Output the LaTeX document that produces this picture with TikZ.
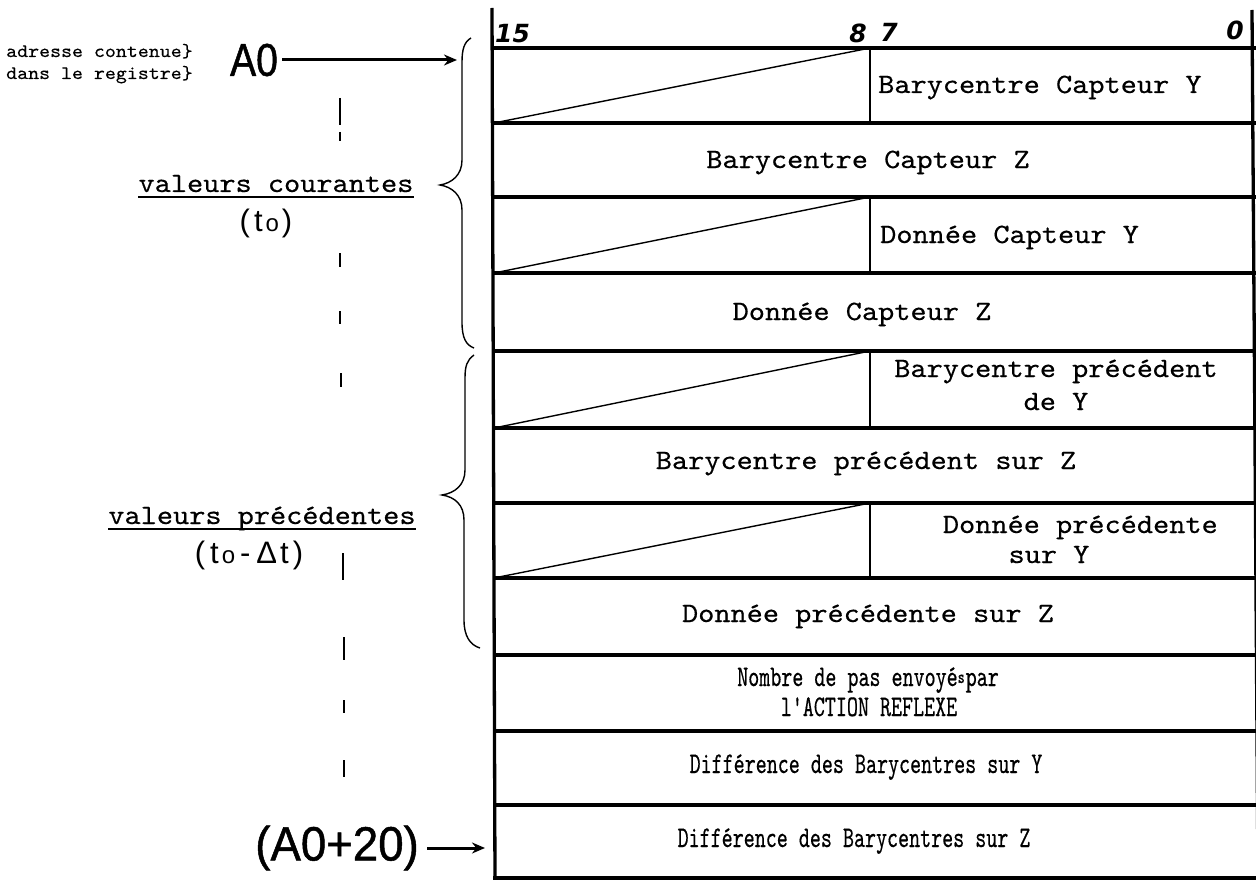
\documentclass[tikz,border=0pt]{standalone}
\usepackage{fontspec}
\usetikzlibrary{arrows.meta}
\newfontfamily\tabfont[FakeStretch=1.1,FakeBold=0.4]{lmmono10-regular.otf}
\newfontfamily\narrowfont[FakeStretch=0.7,FakeBold=0.4]{lmmono10-regular.otf}
\newfontfamily\leftfont[FakeStretch=1.1,FakeBold=0.3]{lmmono10-regular.otf}
\newfontfamily\handfont[FakeStretch=0.85,FakeBold=1]{Liberation Sans}
\newfontfamily\handfontb[FakeStretch=0.95,FakeBold=1]{Liberation Sans}
\newfontfamily\thinfont{Liberation Sans}
\newfontfamily\numfont{DejaVu Sans}
\tikzset{
  thickline/.style={line width=3.3pt},
  thinline/.style={line width=1.4pt},
  bracestyle/.style={line width=1.4pt},
  dashline/.style={line width=1.6pt},
  arrowline/.style={line width=3pt,-{Stealth[length=13pt,width=11pt]}},
  celltext/.style={font=\tabfont\fontsize{28}{30}\selectfont,inner sep=0pt},
  narrowtext/.style={font=\narrowfont\fontsize{30}{30}\selectfont,inner sep=0pt},
  lefttext/.style={font=\leftfont\fontsize{19}{20}\selectfont,inner sep=0pt},
  handtext/.style={font=\handfont\fontsize{46}{46}\selectfont,inner sep=0pt},
  handtextb/.style={font=\handfontb\fontsize{48}{48}\selectfont,inner sep=0pt},
  thintext/.style={font=\thinfont\fontsize{31}{31}\selectfont,inner sep=0pt},
  numtext/.style={font=\numfont\bfseries\itshape\fontsize{25}{25}\selectfont,inner sep=0pt},
}
\begin{document}
\begin{tikzpicture}[x=1pt,y=-1pt]
\useasboundingbox (0,0) rectangle (1256,880);
\fill[white] (0,0) rectangle (1256,880);

% table frame
\draw[thickline] (492,8) -- (495,882);
\draw[thickline] (1252,10) -- (1258,882);
\foreach \y in {48,123,197,273,351,428,503,578,655,731,805,878}
  \draw[thickline] (493,\y) -- (1256,\y);
% split rows with diagonal
\foreach \t/\b in {48/123,197/273,351/428,503/578}{
  \draw[thinline] (870,\t) -- (870,\b);
  \draw[thinline] (494,\b) -- (870,\t);
}

% bit numbers
\node[numtext,anchor=west] (n15) at (495,34) {15};
\node[numtext] (n8) at (858,33) {8};
\node[numtext] (n7) at (889,32) {7};
\node[numtext] (n0) at (1235,30) {0};

% cell texts
\node[celltext,anchor=base west] (r0) at (878,93) {Barycentre Capteur Y};
\node[celltext,anchor=base] (r1) at (868,168) {Barycentre Capteur Z};
\node[celltext,anchor=base west] (r2) at (880,243) {Donnée Capteur Y};
\node[celltext,anchor=base] (r3) at (862,320) {Donnée Capteur Z};
\node[celltext,anchor=base] (r4a) at (1056,377) {Barycentre précédent};
\node[celltext,anchor=base] (r4b) at (1056,410) {de Y};
\node[celltext,anchor=base] (r5) at (866,469) {Barycentre précédent sur Z};
\node[celltext,anchor=base east] (r6a) at (1218,533) {Donnée précédente};
\node[celltext,anchor=base] (r6b) at (1049,563) {sur Y};
\node[celltext,anchor=base] (r7) at (868,622) {Donnée précédente sur Z};
\node[narrowtext,anchor=base] (r8a) at (868,686) {Nombre de pas envoyé\raisebox{3pt}{\fontsize{19}{19}\selectfont s}\kern1pt par};
\node[narrowtext,anchor=base] (r8b) at (869,716) {l'ACTION REFLEXE};
\node[narrowtext,anchor=base] (r9) at (866,773) {Différence des Barycentres sur Y};
\node[narrowtext,anchor=base] (r10) at (854,847) {Différence des Barycentres sur Z};

% left annotations
\node[lefttext,anchor=base west] (adr1) at (6,57) {adresse contenue\}};
\node[lefttext,anchor=base west] (adr2) at (6,79) {dans le registre\}};
\node[handtext] (a0) at (254,60) {A0};
\coordinate (a0tip) at (457,60);
\draw[arrowline,shorten <=4pt] (a0) -- (a0tip);

\node[handtextb,anchor=east] (a20) at (419,848) {(A0+20)};
\coordinate (a20tip) at (485,848);
\draw[arrowline,shorten <=8pt] (a20) -- (a20tip);

\node[celltext,anchor=base] (vc) at (276,192) {valeurs courantes};
\draw[thinline] ([yshift=-5pt]vc.base west) -- ([yshift=-5pt]vc.base east);
\node[thintext] (t0) at (266,223) {(\kern4pt t\kern3pt{\fontsize{24}{24}\selectfont o}\kern3pt)};

\node[celltext,anchor=base] (vp) at (262,524) {valeurs précédentes};
\draw[thinline] ([yshift=-5pt]vp.base west) -- ([yshift=-5pt]vp.base east);
\node[thintext] (t1) at (249,555) {(\kern5pt t\kern3pt{\fontsize{24}{24}\selectfont o}\kern5pt-\kern6ptΔ\kern3pt t\kern4pt)};

% braces
\draw[bracestyle] (471,38) .. controls (464,42) and (462,50) .. (462,62) -- (462,160)
  .. controls (462,175) and (452,183) .. (440,185)
  .. controls (452,187) and (462,195) .. (462,210) -- (462,322)
  .. controls (462,338) and (466,345) .. (474,348);
\draw[bracestyle] (474,355) .. controls (467,360) and (465,366) .. (465,378) -- (465,470)
  .. controls (465,485) and (455,493) .. (442,495)
  .. controls (455,497) and (464,505) .. (464,520) -- (464,620)
  .. controls (464,636) and (470,645) .. (480,648);

% dashed guide line
\foreach \a/\b/\x in {98/125/340,132/141/340,253/267/340,311/324/340,373/387/341,553/580/343,637/660/344,700/713/344,760/777/344}
  \draw[dashline] (\x,\a) -- (\x,\b);
\end{tikzpicture}
\end{document}
